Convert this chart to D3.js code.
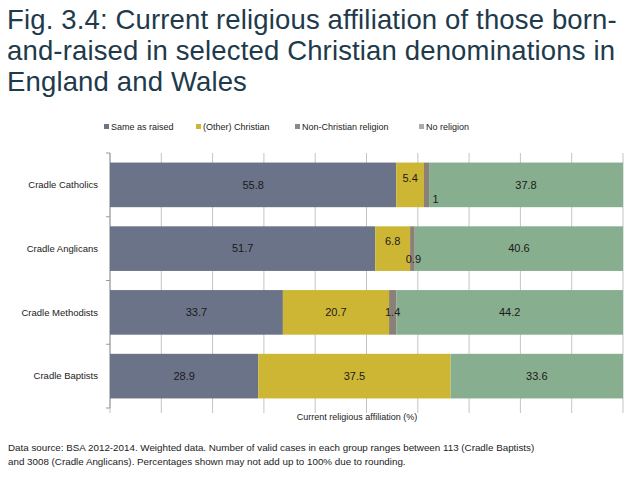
<!DOCTYPE html>
<html>
<head>
<meta charset="utf-8">
<script src="https://cdn.jsdelivr.net/npm/d3@7"></script>
<style>
  body { margin: 0; background: #fff; }
  text { font-family: "Liberation Sans", Arial, sans-serif; }
</style>
</head>
<body>
<script>
// categories and series
var categories = ["Cradle Catholics", "Cradle Anglicans", "Cradle Methodists", "Cradle Baptists"];
var seriesNames = ["Same as raised", "(Other) Christian", "Non-Christian religion", "No religion"];
var sameAsRaised = [55.8, 51.7, 33.7, 28.9];
var otherChristian = [5.4, 6.8, 20.7, 37.5];
var nonChristian = [1, 0.9, 1.4, 0];
var noReligion = [37.8, 40.6, 44.2, 33.6];
var xTicks = [0, 10, 20, 30, 40, 50, 60, 70, 80, 90, 100];

var colors = ["#6b7389", "#cdb634", "#8b8077", "#87ae8e"];
var legendColors = ["#6b7389", "#cdb634", "#8a8a8a", "#a6aea6"];

var width = 637, height = 480;
var svg = d3.select("body").append("svg")
    .attr("width", width)
    .attr("height", height);

// title
var titleLines = ["Fig. 3.4: Current religious affiliation of those born-",
                  "and-raised in selected Christian denominations in",
                  "England and Wales"];
svg.append("g").selectAll("text")
    .data(titleLines)
    .enter().append("text")
    .attr("x", 7)
    .attr("y", (d, i) => 29 + i * 31)
    .attr("fill", "#1e3a4b")
    .style("font-size", "27.5px")
    .style("letter-spacing", "0.15px")
    .style("font-weight", 300)
    .text(d => d);

// scales
var x = d3.scaleLinear().domain([0, 100]).range([110, 623]);
var y = d3.scaleBand().domain(categories).range([153, 408]).paddingInner(0.3).paddingOuter(0.15);

// gridlines
svg.append("g").selectAll("line")
    .data(xTicks)
    .enter().append("line")
    .attr("x1", d => x(d)).attr("x2", d => x(d))
    .attr("y1", 153).attr("y2", 413)
    .attr("stroke", "#c4c4c4")
    .attr("stroke-width", 1);

// left axis line with band ticks
var yAxisG = svg.append("g");
yAxisG.append("line")
    .attr("x1", 110).attr("x2", 110)
    .attr("y1", 153).attr("y2", 408)
    .attr("stroke", "#9a9a9a");
yAxisG.selectAll(".bt")
    .data(d3.range(5).map(i => 153 + i * y.step()))
    .enter().append("line")
    .attr("x1", 106).attr("x2", 110)
    .attr("y1", d => d).attr("y2", d => d)
    .attr("stroke", "#9a9a9a");

// stacked data
var rows = categories.map((c, i) => ({
    cat: c,
    "Same as raised": sameAsRaised[i],
    "(Other) Christian": otherChristian[i],
    "Non-Christian religion": nonChristian[i],
    "No religion": noReligion[i]
}));
var stacked = d3.stack().keys(seriesNames)(rows);

var layers = svg.append("g").selectAll("g")
    .data(stacked)
    .enter().append("g")
    .attr("fill", (d, i) => colors[i]);

layers.selectAll("rect")
    .data(d => d)
    .enter().append("rect")
    .attr("x", d => x(d[0]))
    .attr("width", d => x(d[1]) - x(d[0]))
    .attr("y", d => y(d.data.cat))
    .attr("height", y.bandwidth());

// value labels (small segments nudged like in the original)
var nudge = {
    "(Other) Christian|Cradle Catholics": [0, -7],
    "(Other) Christian|Cradle Anglicans": [0, -7],
    "Non-Christian religion|Cradle Catholics": [9, 14],
    "Non-Christian religion|Cradle Anglicans": [1, 11]
};
var labelG = svg.append("g");
stacked.forEach(function(layer) {
    layer.forEach(function(d) {
        var v = d[1] - d[0];
        if (v <= 0) return;
        var n = nudge[layer.key + "|" + d.data.cat] || [0, 0];
        labelG.append("text")
            .attr("x", x((d[0] + d[1]) / 2) + n[0])
            .attr("y", y(d.data.cat) + y.bandwidth() / 2 + n[1])
            .attr("dy", "0.35em")
            .attr("text-anchor", "middle")
            .attr("fill", "#1a1a1a")
            .style("font-size", "11px")
            .text(d3.format(".1~f")(+v.toFixed(1)));
    });
});

// category labels
svg.append("g").selectAll("text")
    .data(categories)
    .enter().append("text")
    .attr("x", 98)
    .attr("y", d => y(d) + y.bandwidth() / 2)
    .attr("dy", "0.35em")
    .attr("text-anchor", "end")
    .attr("fill", "#222")
    .style("font-size", "9.5px")
    .text(d => d);

// axis title
svg.append("text")
    .attr("x", 357)
    .attr("y", 420)
    .attr("text-anchor", "middle")
    .attr("fill", "#222")
    .style("font-size", "9px")
    .text("Current religious affiliation (%)");

// legend
var legendX = [104, 196, 295, 419];
var legend = svg.append("g").selectAll("g")
    .data(seriesNames)
    .enter().append("g")
    .attr("transform", (d, i) => "translate(" + legendX[i] + ",130)");
legend.append("rect")
    .attr("x", 0).attr("y", -6)
    .attr("width", 5).attr("height", 5)
    .attr("fill", (d, i) => legendColors[i]);
legend.append("text")
    .attr("x", 7)
    .attr("y", 0)
    .attr("fill", "#222")
    .style("font-size", "9px")
    .text(d => d);

// footer
var footer = ["Data source: BSA 2012-2014. Weighted data. Number of valid cases in each group ranges between 113 (Cradle Baptists)",
              "and 3008 (Cradle Anglicans). Percentages shown may not add up to 100% due to rounding."];
svg.append("g").selectAll("text")
    .data(footer)
    .enter().append("text")
    .attr("x", 8)
    .attr("y", (d, i) => 451 + i * 14)
    .attr("fill", "#222")
    .style("font-size", "9.8px")
    .text(d => d);
</script>
</body>
</html>
